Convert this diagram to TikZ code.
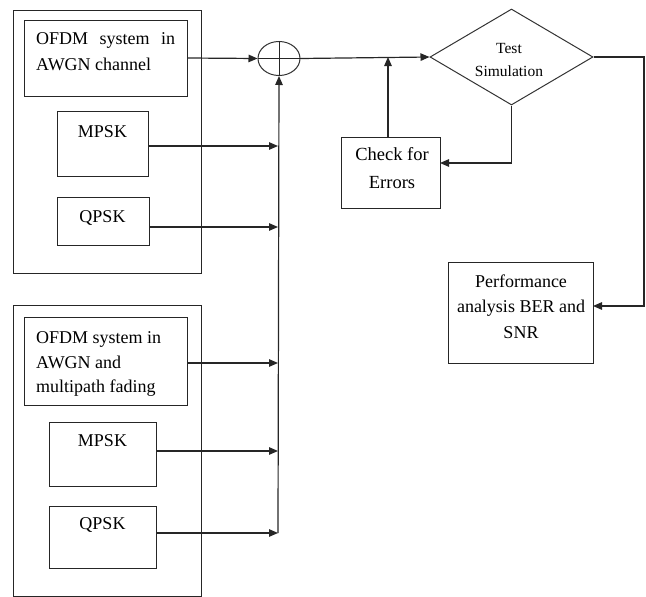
\documentclass[tikz,border=0pt]{standalone}
\usepackage{fontspec}
\setmainfont{Liberation Serif}
\usetikzlibrary{shapes.geometric,arrows.meta}
\begin{document}
\begin{tikzpicture}[x=1pt,y=-1pt,
  box/.style={draw=black!85,line width=1pt,rectangle,inner sep=0pt},
  txt/.style={inner sep=0pt,font=\fontsize{18}{25}\selectfont},
  conn/.style={draw=black!85,line width=1.2pt,-{Triangle[length=9pt,width=7.5pt]}},
  plain/.style={draw=black!85,line width=1.1pt}]
\useasboundingbox (0,0) rectangle (646,597);
% left groups
\node[box,minimum width=188pt,minimum height=263pt] (outerA) at (107,141.5) {};
\node[box,minimum width=163pt,minimum height=76pt] (ofdmA) at (105.5,58) {};
\node[box,minimum width=91pt,minimum height=65pt] (mpskA) at (102.5,143.5) {};
\node[box,minimum width=92pt,minimum height=48pt] (qpskA) at (103,221) {};
\node[box,minimum width=188pt,minimum height=291pt] (outerB) at (107,450.5) {};
\node[box,minimum width=163pt,minimum height=88pt] (ofdmB) at (105.5,361) {};
\node[box,minimum width=107pt,minimum height=64pt] (mpskB) at (102.5,454) {};
\node[box,minimum width=107pt,minimum height=62pt] (qpskB) at (102.5,537) {};
% texts left
\node[txt,anchor=base west] (tA1) at (36,45) {\makebox[139pt][s]{OFDM system in}};
\node[txt,anchor=base west] (tA2) at (36,70) {AWGN channel};
\node[txt,anchor=base] (tA3) at (102.5,137) {MPSK};
\node[txt,anchor=base] (tA4) at (102.5,222) {QPSK};
\node[txt,anchor=base west] (tB1) at (36,343) {OFDM system in};
\node[txt,anchor=base west] (tB2) at (36,368) {AWGN and};
\node[txt,anchor=base west] (tB3) at (36,392) {multipath fading};
\node[txt,anchor=base] (tB4) at (102.5,446) {MPSK};
\node[txt,anchor=base] (tB5) at (102.5,529) {QPSK};
% summing junction
\node[draw=black!80,line width=1pt,ellipse,minimum width=42pt,minimum height=34pt,inner sep=0pt] (sum) at (279,58.5) {};
\draw[plain,line width=0.9pt] (sum.north) -- (sum.south);
\draw[plain,line width=0.9pt] (sum.west) -- (sum.east);
% decision
\node[draw=black!80,line width=1pt,diamond,aspect=1.7,minimum width=163pt,minimum height=96pt,inner sep=0pt] (test) at (511.5,57) {};
\node[txt,font=\fontsize{15.5}{22}\selectfont,anchor=base] (tT1) at (509,53) {Test};
\node[txt,font=\fontsize{15.5}{22}\selectfont,anchor=base] (tT2) at (509,76) {Simulation};
% check
\node[box,minimum width=99pt,minimum height=71pt] (check) at (390.5,172.5) {};
\node[txt,font=\fontsize{18.5}{26}\selectfont,anchor=base] (tC1) at (392,160) {Check for};
\node[txt,font=\fontsize{18.5}{26}\selectfont,anchor=base] (tC2) at (392,188) {Errors};
% performance
\node[box,minimum width=145pt,minimum height=101pt] (perf) at (520.5,312.5) {};
\node[txt,anchor=base] (tP1) at (521,287) {Performance};
\node[txt,anchor=base] (tP2) at (521,312) {analysis BER and};
\node[txt,anchor=base] (tP3) at (521,338) {SNR};
% bus
\coordinate (busBot) at (278,533);
\coordinate (b1) at (278,146);
\coordinate (b2) at (278,227);
\coordinate (b3) at (278,363);
\coordinate (b4) at (278,451);
\draw[conn] (busBot) -- (sum.south);
\draw[conn] (ofdmA.east) -- (sum.west);
\draw[conn] (mpskA.east |- b1) -- (b1);
\draw[conn] (qpskA.east |- b2) -- (b2);
\draw[conn] (ofdmB.east |- b3) -- (b3);
\draw[conn] (mpskB.east |- b4) -- (b4);
\draw[conn] (qpskB.east |- busBot) -- (busBot);
% main line
\draw[conn] (sum.east) -- (test.west);
\coordinate (chkTop) at (388,137);
\draw[conn] (chkTop) -- (chkTop |- test.west);
\coordinate (chkIn) at (440,163);
\draw[conn] (test.south) |- (chkIn);
\coordinate (rightTop) at (644,57);
\coordinate (perfIn) at (593,306);
\draw[conn] (test.east) -- (rightTop) |- (perfIn);
\end{tikzpicture}
\end{document}
